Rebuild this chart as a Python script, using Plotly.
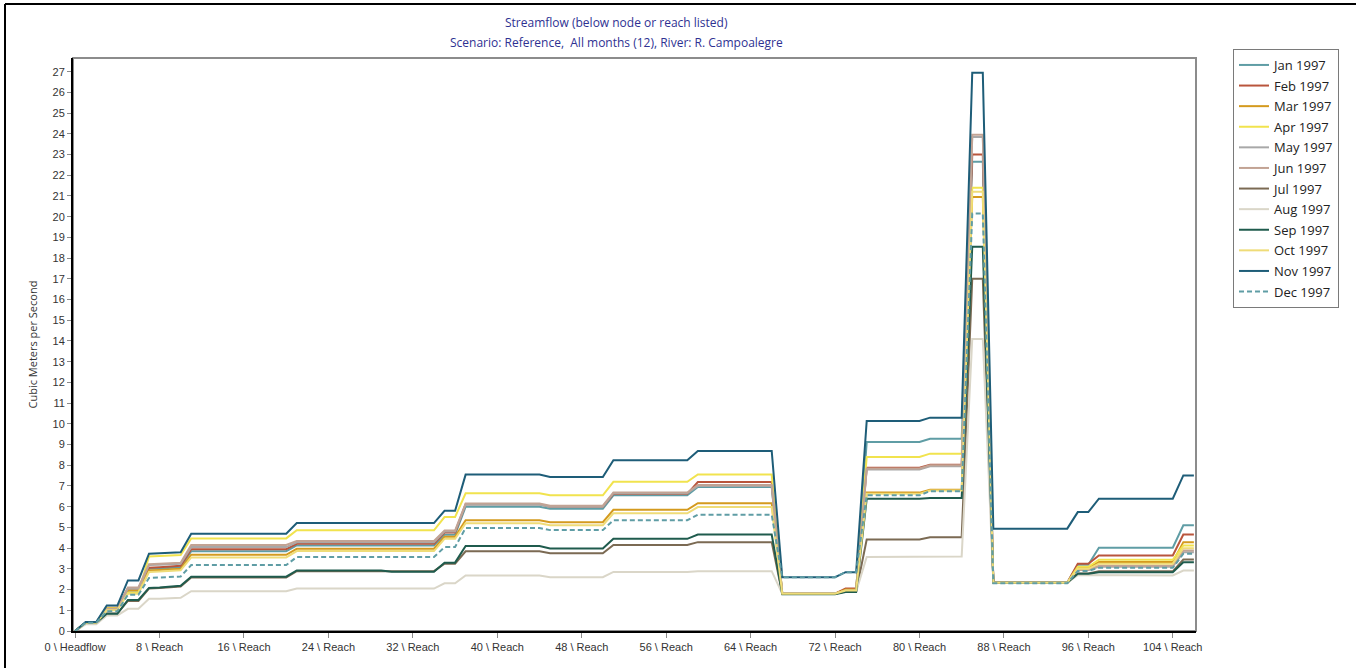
import plotly.graph_objects as go

# Node / reach position along the river (0 = headflow)
node_index = list(range(107))

# Labelled positions on the x axis
x_tick_vals = [0, 8, 16, 24, 32, 40, 48, 56, 64, 72, 80, 88, 96, 104]
x_tick_text = ["0 \\ Headflow", "8 \\ Reach", "16 \\ Reach", "24 \\ Reach", "32 \\ Reach",
               "40 \\ Reach", "48 \\ Reach", "56 \\ Reach", "64 \\ Reach", "72 \\ Reach",
               "80 \\ Reach", "88 \\ Reach", "96 \\ Reach", "104 \\ Reach"]
y_tick_vals = list(range(0, 28))

# Streamflow (m3/s) below each node, one list per month
jan_1997 = [0.00, 0.42, 0.42, 1.10, 1.10, 1.95, 1.95, 3.00, 3.02, 3.05, 3.08,
            3.85, 3.85, 3.85, 3.85, 3.85, 3.85, 3.85, 3.85, 3.85, 3.85,
            4.13, 4.13, 4.13, 4.13, 4.13, 4.13, 4.13, 4.13, 4.13, 4.13, 4.13, 4.13, 4.13, 4.13,
            4.65, 4.65,
            6.00, 6.00, 6.00, 6.00, 6.00, 6.00, 6.00, 6.00,
            5.90, 5.90, 5.90, 5.90, 5.90, 5.90,
            6.55, 6.55, 6.55, 6.55, 6.55, 6.55, 6.55, 6.55,
            6.95, 6.95, 6.95, 6.95, 6.95, 6.95, 6.95, 6.95,
            1.80, 1.80, 1.80, 1.80, 1.80, 1.80,
            1.95, 1.95,
            9.12, 9.12, 9.12, 9.12, 9.12, 9.12,
            9.28, 9.28, 9.28, 9.28,
            22.65, 22.65,
            2.33, 2.33, 2.33, 2.33, 2.33, 2.33, 2.33, 2.33,
            3.20, 3.20,
            4.02, 4.02, 4.02, 4.02, 4.02, 4.02, 4.02, 4.02,
            5.10, 5.10]

feb_1997 = [0.00, 0.40, 0.40, 1.12, 1.12, 2.05, 2.05, 3.05, 3.08, 3.10, 3.15,
            3.95, 3.95, 3.95, 3.95, 3.95, 3.95, 3.95, 3.95, 3.95, 3.95,
            4.21, 4.21, 4.21, 4.21, 4.21, 4.21, 4.21, 4.21, 4.21, 4.21, 4.21, 4.21, 4.21, 4.21,
            4.75, 4.75,
            6.12, 6.12, 6.12, 6.12, 6.12, 6.12, 6.12, 6.12,
            6.00, 6.00, 6.00, 6.00, 6.00, 6.00,
            6.62, 6.62, 6.62, 6.62, 6.62, 6.62, 6.62, 6.62,
            7.19, 7.19, 7.19, 7.19, 7.19, 7.19, 7.19, 7.19,
            1.80, 1.80, 1.80, 1.80, 1.80, 1.80,
            2.05, 2.05,
            7.88, 7.88, 7.88, 7.88, 7.88, 7.88,
            8.02, 8.02, 8.02, 8.02,
            23.00, 23.00,
            2.33, 2.33, 2.33, 2.33, 2.33, 2.33, 2.33, 2.33,
            3.25, 3.25,
            3.65, 3.65, 3.65, 3.65, 3.65, 3.65, 3.65, 3.65,
            4.66, 4.66]

mar_1997 = [0.00, 0.40, 0.40, 1.05, 1.05, 1.95, 1.95, 2.92, 2.95, 2.98, 3.00,
            3.68, 3.68, 3.68, 3.68, 3.68, 3.68, 3.68, 3.68, 3.68, 3.68,
            3.97, 3.97, 3.97, 3.97, 3.97, 3.97, 3.97, 3.97, 3.97, 3.97, 3.97, 3.97, 3.97, 3.97,
            4.55, 4.55,
            5.35, 5.35, 5.35, 5.35, 5.35, 5.35, 5.35, 5.35,
            5.25, 5.25, 5.25, 5.25, 5.25, 5.25,
            5.85, 5.85, 5.85, 5.85, 5.85, 5.85, 5.85, 5.85,
            6.17, 6.17, 6.17, 6.17, 6.17, 6.17, 6.17, 6.17,
            1.80, 1.80, 1.80, 1.80, 1.80, 1.80,
            2.00, 2.00,
            6.68, 6.68, 6.68, 6.68, 6.68, 6.68,
            6.82, 6.82, 6.82, 6.82,
            20.95, 20.95,
            2.33, 2.33, 2.33, 2.33, 2.33, 2.33, 2.33, 2.33,
            3.05, 3.05,
            3.33, 3.33, 3.33, 3.33, 3.33, 3.33, 3.33, 3.33,
            4.29, 4.29]

apr_1997 = [0.00, 0.40, 0.40, 1.10, 1.10, 1.85, 1.85, 3.60, 3.62, 3.65, 3.67,
            4.47, 4.47, 4.47, 4.47, 4.47, 4.47, 4.47, 4.47, 4.47, 4.47,
            4.86, 4.86, 4.86, 4.86, 4.86, 4.86, 4.86, 4.86, 4.86, 4.86, 4.86, 4.86, 4.86, 4.86,
            5.50, 5.50,
            6.65, 6.65, 6.65, 6.65, 6.65, 6.65, 6.65, 6.65,
            6.55, 6.55, 6.55, 6.55, 6.55, 6.55,
            7.20, 7.20, 7.20, 7.20, 7.20, 7.20, 7.20, 7.20,
            7.56, 7.56, 7.56, 7.56, 7.56, 7.56, 7.56, 7.56,
            1.80, 1.80, 1.80, 1.80, 1.80, 1.80,
            1.95, 1.95,
            8.40, 8.40, 8.40, 8.40, 8.40, 8.40,
            8.56, 8.56, 8.56, 8.56,
            21.40, 21.40,
            2.33, 2.33, 2.33, 2.33, 2.33, 2.33, 2.33, 2.33,
            3.10, 3.10,
            3.44, 3.44, 3.44, 3.44, 3.44, 3.44, 3.44, 3.44,
            4.13, 4.13]

may_1997 = [0.00, 0.40, 0.40, 1.05, 1.05, 2.05, 2.05, 3.18, 3.20, 3.23, 3.25,
            4.05, 4.05, 4.05, 4.05, 4.05, 4.05, 4.05, 4.05, 4.05, 4.05,
            4.28, 4.28, 4.28, 4.28, 4.28, 4.28, 4.28, 4.28, 4.28, 4.28, 4.28, 4.28, 4.28, 4.28,
            4.80, 4.80,
            6.10, 6.10, 6.10, 6.10, 6.10, 6.10, 6.10, 6.10,
            6.00, 6.00, 6.00, 6.00, 6.00, 6.00,
            6.65, 6.65, 6.65, 6.65, 6.65, 6.65, 6.65, 6.65,
            7.00, 7.00, 7.00, 7.00, 7.00, 7.00, 7.00, 7.00,
            1.80, 1.80, 1.80, 1.80, 1.80, 1.80,
            1.92, 1.92,
            7.80, 7.80, 7.80, 7.80, 7.80, 7.80,
            7.95, 7.95, 7.95, 7.95,
            23.85, 23.85,
            2.33, 2.33, 2.33, 2.33, 2.33, 2.33, 2.33, 2.33,
            2.95, 2.95,
            3.10, 3.10, 3.10, 3.10, 3.10, 3.10, 3.10, 3.10,
            3.80, 3.80]

jun_1997 = [0.00, 0.40, 0.40, 1.05, 1.05, 2.10, 2.10, 3.22, 3.25, 3.28, 3.30,
            4.15, 4.15, 4.15, 4.15, 4.15, 4.15, 4.15, 4.15, 4.15, 4.15,
            4.35, 4.35, 4.35, 4.35, 4.35, 4.35, 4.35, 4.35, 4.35, 4.35, 4.35, 4.35, 4.35, 4.35,
            4.85, 4.85,
            6.15, 6.15, 6.15, 6.15, 6.15, 6.15, 6.15, 6.15,
            6.05, 6.05, 6.05, 6.05, 6.05, 6.05,
            6.68, 6.68, 6.68, 6.68, 6.68, 6.68, 6.68, 6.68,
            7.05, 7.05, 7.05, 7.05, 7.05, 7.05, 7.05, 7.05,
            1.80, 1.80, 1.80, 1.80, 1.80, 1.80,
            1.95, 1.95,
            7.85, 7.85, 7.85, 7.85, 7.85, 7.85,
            8.00, 8.00, 8.00, 8.00,
            23.95, 23.95,
            2.33, 2.33, 2.33, 2.33, 2.33, 2.33, 2.33, 2.33,
            2.95, 2.95,
            3.15, 3.15, 3.15, 3.15, 3.15, 3.15, 3.15, 3.15,
            3.89, 3.89]

jul_1997 = [0.00, 0.38, 0.38, 0.85, 0.85, 1.45, 1.45, 2.05, 2.07, 2.12, 2.15,
            2.58, 2.58, 2.58, 2.58, 2.58, 2.58, 2.58, 2.58, 2.58, 2.58,
            2.89, 2.89, 2.89, 2.89, 2.89, 2.89, 2.89, 2.89, 2.89, 2.89, 2.89, 2.89, 2.89, 2.89,
            3.25, 3.25,
            3.85, 3.85, 3.85, 3.85, 3.85, 3.85, 3.85, 3.85,
            3.75, 3.75, 3.75, 3.75, 3.75, 3.75,
            4.15, 4.15, 4.15, 4.15, 4.15, 4.15, 4.15, 4.15,
            4.29, 4.29, 4.29, 4.29, 4.29, 4.29, 4.29, 4.29,
            1.80, 1.80, 1.80, 1.80, 1.80, 1.80,
            1.90, 1.90,
            4.42, 4.42, 4.42, 4.42, 4.42, 4.42,
            4.53, 4.53, 4.53, 4.53,
            17.00, 17.00,
            2.33, 2.33, 2.33, 2.33, 2.33, 2.33, 2.33, 2.33,
            2.78, 2.78,
            2.88, 2.88, 2.88, 2.88, 2.88, 2.88, 2.88, 2.88,
            3.45, 3.45]

aug_1997 = [0.00, 0.32, 0.32, 0.75, 0.75, 1.07, 1.07, 1.56, 1.56, 1.58, 1.60,
            1.92, 1.92, 1.92, 1.92, 1.92, 1.92, 1.92, 1.92, 1.92, 1.92,
            2.05, 2.05, 2.05, 2.05, 2.05, 2.05, 2.05, 2.05, 2.05, 2.05, 2.05, 2.05, 2.05, 2.05,
            2.30, 2.30,
            2.68, 2.68, 2.68, 2.68, 2.68, 2.68, 2.68, 2.68,
            2.60, 2.60, 2.60, 2.60, 2.60, 2.60,
            2.85, 2.85, 2.85, 2.85, 2.85, 2.85, 2.85, 2.85,
            2.89, 2.89, 2.89, 2.89, 2.89, 2.89, 2.89, 2.89,
            1.80, 1.80, 1.80, 1.80, 1.80, 1.80,
            1.90, 1.90,
            3.57, 3.57, 3.57, 3.57, 3.57, 3.57,
            3.60, 3.60, 3.60, 3.60,
            14.10, 14.10,
            2.33, 2.33, 2.33, 2.33, 2.33, 2.33, 2.33, 2.33,
            2.70, 2.70,
            2.68, 2.68, 2.68, 2.68, 2.68, 2.68, 2.68, 2.68,
            2.92, 2.92]

sep_1997 = [0.00, 0.40, 0.40, 0.83, 0.83, 1.50, 1.50, 2.08, 2.10, 2.15, 2.18,
            2.62, 2.62, 2.62, 2.62, 2.62, 2.62, 2.62, 2.62, 2.62, 2.62,
            2.92, 2.92, 2.92, 2.92, 2.92, 2.92, 2.92, 2.92, 2.92, 2.86, 2.86, 2.86, 2.86, 2.86,
            3.30, 3.30,
            4.10, 4.10, 4.10, 4.10, 4.10, 4.10, 4.10, 4.10,
            3.98, 3.98, 3.98, 3.98, 3.98, 3.98,
            4.45, 4.45, 4.45, 4.45, 4.45, 4.45, 4.45, 4.45,
            4.66, 4.66, 4.66, 4.66, 4.66, 4.66, 4.66, 4.66,
            1.78, 1.78, 1.78, 1.78, 1.78, 1.78,
            1.88, 1.88,
            6.38, 6.38, 6.38, 6.38, 6.38, 6.38,
            6.42, 6.42, 6.42, 6.42,
            18.55, 18.55,
            2.33, 2.33, 2.33, 2.33, 2.33, 2.33, 2.33, 2.33,
            2.76, 2.76,
            2.84, 2.84, 2.84, 2.84, 2.84, 2.84, 2.84, 2.84,
            3.32, 3.32]

oct_1997 = [0.00, 0.40, 0.40, 1.00, 1.00, 1.80, 1.80, 2.85, 2.87, 2.90, 2.93,
            3.55, 3.55, 3.55, 3.55, 3.55, 3.55, 3.55, 3.55, 3.55, 3.55,
            3.86, 3.86, 3.86, 3.86, 3.86, 3.86, 3.86, 3.86, 3.86, 3.86, 3.86, 3.86, 3.86, 3.86,
            4.45, 4.45,
            5.20, 5.20, 5.20, 5.20, 5.20, 5.20, 5.20, 5.20,
            5.10, 5.10, 5.10, 5.10, 5.10, 5.10,
            5.68, 5.68, 5.68, 5.68, 5.68, 5.68, 5.68, 5.68,
            5.98, 5.98, 5.98, 5.98, 5.98, 5.98, 5.98, 5.98,
            1.80, 1.80, 1.80, 1.80, 1.80, 1.80,
            1.95, 1.95,
            6.62, 6.62, 6.62, 6.62, 6.62, 6.62,
            6.78, 6.78, 6.78, 6.78,
            21.20, 21.20,
            2.33, 2.33, 2.33, 2.33, 2.33, 2.33, 2.33, 2.33,
            3.00, 3.00,
            3.25, 3.25, 3.25, 3.25, 3.25, 3.25, 3.25, 3.25,
            4.00, 4.00]

nov_1997 = [0.00, 0.43, 0.43, 1.23, 1.23, 2.44, 2.44, 3.73, 3.75, 3.78, 3.80,
            4.70, 4.70, 4.70, 4.70, 4.70, 4.70, 4.70, 4.70, 4.70, 4.70,
            5.21, 5.21, 5.21, 5.21, 5.21, 5.21, 5.21, 5.21, 5.21, 5.21, 5.21, 5.21, 5.21, 5.21,
            5.80, 5.80,
            7.55, 7.55, 7.55, 7.55, 7.55, 7.55, 7.55, 7.55,
            7.43, 7.43, 7.43, 7.43, 7.43, 7.43,
            8.24, 8.24, 8.24, 8.24, 8.24, 8.24, 8.24, 8.24,
            8.69, 8.69, 8.69, 8.69, 8.69, 8.69, 8.69, 8.69,
            2.60, 2.60, 2.60, 2.60, 2.60, 2.60,
            2.84, 2.84,
            10.14, 10.14, 10.14, 10.14, 10.14, 10.14,
            10.30, 10.30, 10.30, 10.30,
            26.95, 26.95,
            4.94, 4.94, 4.94, 4.94, 4.94, 4.94, 4.94, 4.94,
            5.74, 5.74,
            6.39, 6.39, 6.39, 6.39, 6.39, 6.39, 6.39, 6.39,
            7.51, 7.51]

dec_1997 = [0.00, 0.40, 0.40, 0.95, 0.95, 1.75, 1.75, 2.56, 2.58, 2.60, 2.63,
            3.18, 3.18, 3.18, 3.18, 3.18, 3.18, 3.18, 3.18, 3.18, 3.18,
            3.57, 3.57, 3.57, 3.57, 3.57, 3.57, 3.57, 3.57, 3.57, 3.57, 3.57, 3.57, 3.57, 3.57,
            4.05, 4.05,
            4.97, 4.97, 4.97, 4.97, 4.97, 4.97, 4.97, 4.97,
            4.87, 4.87, 4.87, 4.87, 4.87, 4.87,
            5.35, 5.35, 5.35, 5.35, 5.35, 5.35, 5.35, 5.35,
            5.61, 5.61, 5.61, 5.61, 5.61, 5.61, 5.61, 5.61,
            2.60, 2.60, 2.60, 2.60, 2.60, 2.60,
            2.84, 2.84,
            6.55, 6.55, 6.55, 6.55, 6.55, 6.55,
            6.75, 6.75, 6.75, 6.75,
            20.15, 20.15,
            2.30, 2.30, 2.30, 2.30, 2.30, 2.30, 2.30, 2.30,
            2.90, 2.90,
            3.05, 3.05, 3.05, 3.05, 3.05, 3.05, 3.05, 3.05,
            3.73, 3.73]

month_names = ["Jan 1997", "Feb 1997", "Mar 1997", "Apr 1997", "May 1997", "Jun 1997",
               "Jul 1997", "Aug 1997", "Sep 1997", "Oct 1997", "Nov 1997", "Dec 1997"]
month_series = [jan_1997, feb_1997, mar_1997, apr_1997, may_1997, jun_1997,
                jul_1997, aug_1997, sep_1997, oct_1997, nov_1997, dec_1997]
month_colors = ["#5F9DA5", "#B9553C", "#D49A1E", "#F1E34E", "#A8A8A8", "#C2A394",
                "#7B6A53", "#DAD6C8", "#1F5B4D", "#EFDC78", "#1E5D78", "#5F9DA5"]
month_dash = ["solid"] * 11 + ["5px,3px"]

W, H = 1356, 668
L_M, R_M, T_M, B_M = 73, 160, 58, 37
plot_w = W - L_M - R_M
plot_h = H - T_M - B_M


def px_x(px):
    return (px - L_M) / plot_w


def px_y(py):
    return (H - B_M - py) / plot_h


fig = go.Figure()
for name, vals, color, dash in zip(month_names, month_series, month_colors, month_dash):
    fig.add_trace(go.Scatter(
        x=node_index, y=vals, mode="lines", name=name, legendgroup=name,
        line=dict(color=color, width=2, dash=dash),
    ))

tick_font = dict(family="Liberation Sans, Arial, sans-serif", size=11, color="#333333")
ui_font = "Open Sans, Noto Sans, sans-serif"

fig.update_layout(
    width=W, height=H,
    margin=dict(l=L_M, r=R_M, t=T_M, b=B_M, autoexpand=False),
    plot_bgcolor="white", paper_bgcolor="white",
    showlegend=True,
    legend=dict(
        x=px_x(1233), y=px_y(49), xanchor="left", yanchor="top",
        bgcolor="white", bordercolor="#7a7a7a", borderwidth=1,
        font=dict(family=ui_font, size=13, color="#222222"),
        tracegroupgap=0.7, itemwidth=30,
    ),
    xaxis=dict(
        range=[-0.2, 106.2], tickmode="array", tickvals=x_tick_vals, ticktext=x_tick_text,
        ticks="outside", ticklen=5, tickcolor="#8a8a8a", tickfont=tick_font,
        showline=True, linecolor="black", linewidth=2, showgrid=False, zeroline=False,
    ),
    yaxis=dict(
        range=[0, 27.66], tickmode="array", tickvals=y_tick_vals,
        ticks="outside", ticklen=4, tickcolor="#8a8a8a", tickfont=tick_font,
        showline=True, linecolor="black", linewidth=2, showgrid=False, zeroline=False,
    ),
    shapes=[
        # plot frame (top / right edges in grey)
        dict(type="rect", xref="paper", yref="paper", x0=0, y0=0, x1=1, y1=1,
             line=dict(color="#8c8c8c", width=2), layer="below"),
        # outer border of the chart window
        dict(type="line", xref="paper", yref="paper", x0=px_x(5), x1=px_x(W), y0=px_y(4), y1=px_y(4),
             line=dict(color="black", width=2)),
        dict(type="line", xref="paper", yref="paper", x0=px_x(5), x1=px_x(5), y0=px_y(4), y1=px_y(H),
             line=dict(color="black", width=2)),
    ],
    annotations=[
        dict(text="Streamflow (below node or reach listed)", xref="paper", yref="paper",
             x=px_x(616), y=px_y(23), xanchor="center", yanchor="middle", showarrow=False,
             font=dict(family=ui_font, size=12, color="#2E3192")),
        dict(text="Scenario: Reference,\u00a0 All months (12), River: R. Campoalegre",
             xref="paper", yref="paper",
             x=px_x(616), y=px_y(42), xanchor="center", yanchor="middle", showarrow=False,
             font=dict(family=ui_font, size=12, color="#2E3192")),
        dict(text="Cubic Meters per Second", xref="paper", yref="paper",
             x=px_x(32), y=0.5, xanchor="center", yanchor="middle", textangle=-90,
             showarrow=False, font=dict(family=ui_font, size=11, color="#333333")),
    ],
)

fig.write_html("out.html")
